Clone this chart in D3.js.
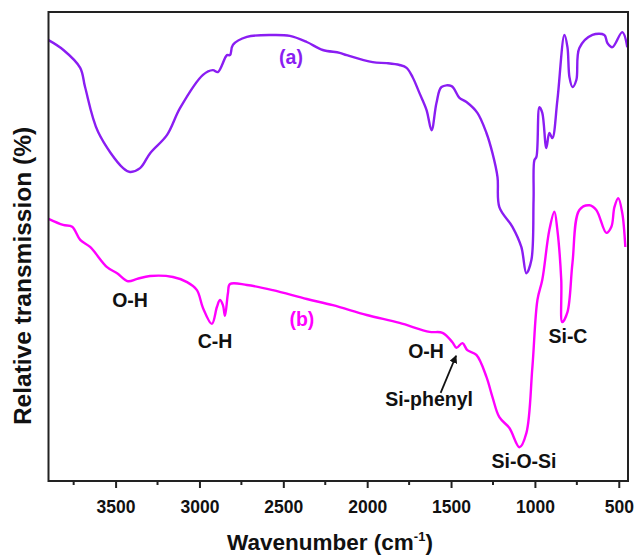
<!DOCTYPE html>
<meta charset='utf-8'>
<style>
  body { margin: 0; background: #fff; }
  text { font-family: Arial, 'Liberation Sans', Helvetica, sans-serif; font-weight: bold; }
  .frame { fill: none; stroke: #222; stroke-width: 2; }
  .curve { fill: none; stroke-width: 2.4; stroke-linejoin: round; }
</style>
<svg width='634' height='556'></svg>
<script src="https://cdnjs.cloudflare.com/ajax/libs/d3/7.8.5/d3.min.js"></script>
<script>
  // spectrum (a): [wavenumber, relative transmission]
  var specA = [
    [3900, 94.0], [3811, 91.9], [3711, 88.1], [3682, 84.0], [3604, 74.4], [3455, 66.7],
    [3414, 65.9], [3354, 66.7], [3294, 69.9], [3193, 73.8], [3116, 79.5], [2979, 86.6],
    [2920, 87.6], [2890, 87.2], [2836, 90.8], [2818, 90.8], [2800, 93.0], [2717, 94.7],
    [2563, 95.1], [2461, 94.9], [2360, 93.6], [2265, 91.9], [2164, 91.3], [2122, 90.8],
    [1967, 89.3], [1884, 89.1], [1807, 88.7], [1765, 88.1], [1729, 86.1], [1688, 82.7],
    [1646, 79.1], [1616, 74.8], [1587, 80.6], [1557, 84.0], [1497, 84.2], [1450, 81.7],
    [1408, 80.8], [1343, 78.5], [1289, 74.2], [1253, 69.9], [1223, 64.8], [1212, 58.4],
    [1134, 54.2], [1081, 49.9], [1051, 44.3], [1021, 47.1], [1008, 60.0], [1003, 68.4],
    [991, 69.1], [973, 79.7], [956, 78.5], [932, 71.0], [914, 74.2], [896, 73.1],
    [866, 81.2], [824, 95.1], [806, 92.5], [794, 86.1], [776, 84.0], [753, 85.5],
    [735, 92.3], [657, 95.1], [586, 95.1], [568, 93.4], [538, 92.5], [479, 95.7], [449, 92.5]
  ];

  // spectrum (b)
  var specB = [
    [3900, 55.9], [3813, 54.6], [3759, 54.2], [3711, 51.4], [3652, 49.9], [3551, 45.6],
    [3491, 44.3], [3426, 42.6], [3372, 43.1], [3295, 43.7], [3158, 43.5], [3074, 42.4],
    [3015, 40.7], [2979, 36.9], [2926, 33.5], [2896, 37.1], [2878, 38.6], [2860, 37.5],
    [2848, 35.2], [2830, 40.1], [2818, 42.0], [2717, 41.8], [2563, 40.7], [2360, 38.8],
    [2205, 37.5], [2003, 35.4], [1807, 33.7], [1628, 31.8], [1551, 31.6], [1492, 29.6],
    [1468, 28.4], [1432, 29.4], [1403, 27.9], [1349, 26.9], [1289, 22.2], [1253, 17.9],
    [1212, 13.6], [1152, 11.3], [1092, 7.2], [1051, 10.2], [1015, 24.3], [985, 38.6],
    [956, 42.9], [914, 53.5], [884, 57.4], [866, 53.5], [843, 42.9], [837, 33.9],
    [806, 36.0], [776, 46.5], [735, 57.8], [675, 58.8], [634, 57.8], [574, 52.9],
    [544, 54.2], [526, 58.4], [503, 60.3], [479, 57.1], [461, 49.9]
  ];

  var xTicks = [3500, 3000, 2500, 2000, 1500, 1000, 500];
  var xMinorTicks = [3750, 3250, 2750, 2250, 1750, 1250, 750];

  // peak labels: [text, wavenumber, transmission]
  var peakLabels = [
    ['O-H', 3414, 37.1],
    ['C-H', 2907, 28.4],
    ['O-H', 1649, 26.2],
    ['Si-phenyl', 1631, 16.0],
    ['Si-O-Si', 1065, 2.8],
    ['Si-C', 803, 29.4]
  ];
  var seriesLabels = [['(a)', 2454, 88.9], ['(b)', 2389, 33.0]];
  var colors = ['#8a1df2', '#ff00ff'];

  var svg = d3.select('svg'),
    mLeft = 48.5, mRight = 628, mTop = 12, mBottom = 481;

  var x = d3.scaleLinear().domain([3900, 445]).range([mLeft, mRight]);
  var y = d3.scaleLinear().domain([0, 100]).range([mBottom, mTop]);

  svg.append('clipPath').attr('id', 'clip')
    .append('rect').attr('x', mLeft).attr('y', mTop).attr('width', mRight - mLeft).attr('height', mBottom - mTop);

  var line = d3.line()
    .x(function(d) { return x(d[0]); })
    .y(function(d) { return y(d[1]); })
    .curve(d3.curveCatmullRom.alpha(0.5));

  var plot = svg.append('g').attr('clip-path', 'url(#clip)');
  [specA, specB].forEach(function(s, i) {
    plot.append('path').attr('class', 'curve').attr('d', line(s)).attr('stroke', colors[i]);
  });

  // bottom axis
  var axis = svg.append('g').attr('transform', 'translate(0,' + mBottom + ')')
    .call(d3.axisBottom(x).tickValues(xTicks).tickSize(7).tickPadding(13).tickFormat(d3.format('d')));
  axis.select('.domain').remove();
  axis.selectAll('line').attr('stroke', '#222').attr('stroke-width', 2);
  axis.selectAll('text').attr('font-size', 17.5).attr('fill', '#111')
    .style('font-family', 'Arial, "Liberation Sans", sans-serif').style('font-weight', 'bold');
  svg.append('g').selectAll('line').data(xMinorTicks).enter().append('line')
    .attr('x1', function(d) { return x(d); }).attr('x2', function(d) { return x(d); })
    .attr('y1', mBottom).attr('y2', mBottom + 4)
    .attr('stroke', '#222').attr('stroke-width', 2);

  svg.append('rect').attr('class', 'frame')
    .attr('x', mLeft).attr('y', mTop).attr('width', mRight - mLeft).attr('height', mBottom - mTop);

  // axis titles
  var xt = svg.append('text').attr('x', 330).attr('y', 550).attr('text-anchor', 'middle')
    .attr('font-size', 22.5).attr('fill', '#111');
  xt.append('tspan').text('Wavenumber (cm');
  xt.append('tspan').attr('dy', -9).attr('font-size', 13).text('-1');
  xt.append('tspan').attr('dy', 9).text(')');

  svg.append('text').attr('transform', 'translate(31,276) rotate(-90)')
    .attr('text-anchor', 'middle').attr('font-size', 24.5).attr('fill', '#111')
    .text('Relative transmission (%)');

  // annotations
  svg.append('g').selectAll('text').data(peakLabels).enter().append('text')
    .attr('x', function(d) { return x(d[1]); })
    .attr('y', function(d) { return y(d[2]); })
    .attr('text-anchor', 'middle').attr('font-size', 19.5).attr('fill', '#111')
    .text(function(d) { return d[0]; });

  svg.append('g').selectAll('text').data(seriesLabels).enter().append('text')
    .attr('x', function(d) { return x(d[1]); })
    .attr('y', function(d) { return y(d[2]); })
    .attr('text-anchor', 'middle').attr('font-size', 19.5)
    .attr('fill', function(d, i) { return colors[i]; })
    .text(function(d) { return d[0]; });

  // arrow to the Si-phenyl band
  svg.append('defs').append('marker')
    .attr('id', 'arrow').attr('viewBox', '0 -5 10 10').attr('refX', 9).attr('refY', 0)
    .attr('markerWidth', 8).attr('markerHeight', 8).attr('markerUnits', 'userSpaceOnUse')
    .attr('orient', 'auto')
    .append('path').attr('d', 'M0,-5L10,0L0,5Z').attr('fill', '#111');
  svg.append('line')
    .attr('x1', x(1562)).attr('y1', y(18.8))
    .attr('x2', x(1470)).attr('y2', y(26.7))
    .attr('stroke', '#111').attr('stroke-width', 1.8)
    .attr('marker-end', 'url(#arrow)');
</script>
